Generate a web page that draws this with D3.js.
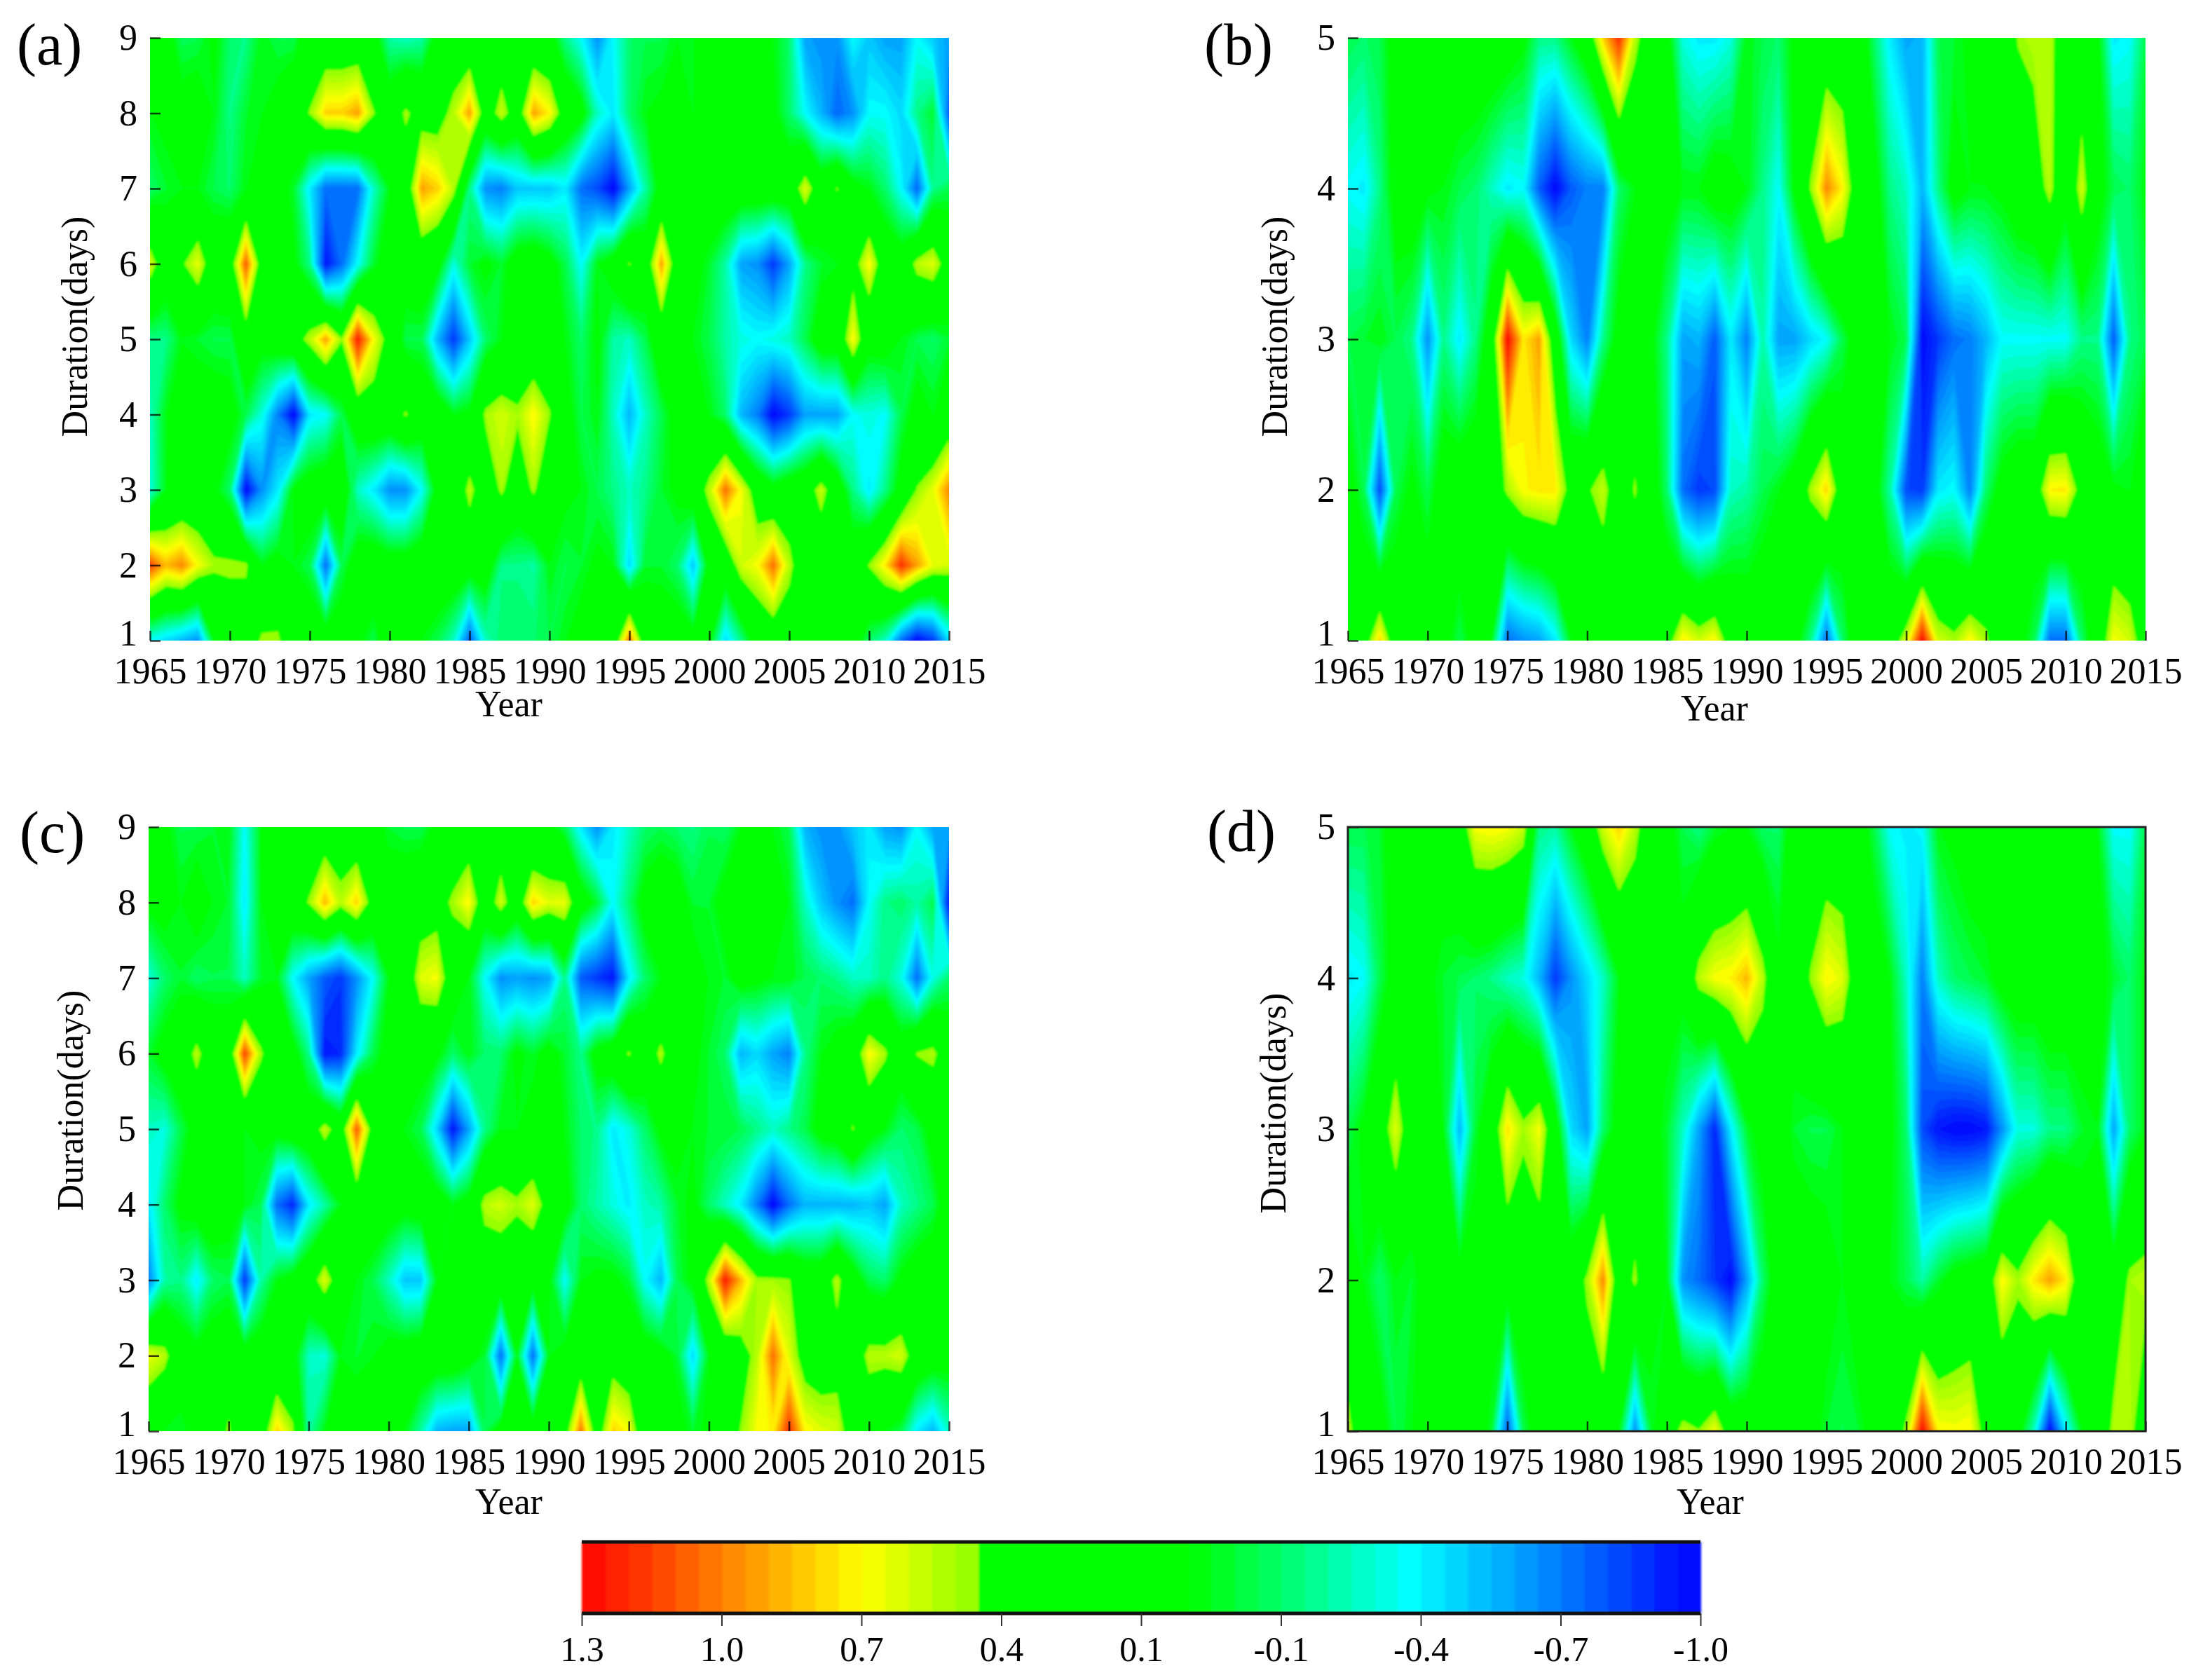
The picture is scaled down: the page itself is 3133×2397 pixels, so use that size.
<!DOCTYPE html>
<html>
<head>
<meta charset="utf-8">
<script src="https://cdn.jsdelivr.net/npm/d3@7"></script>
<style>
  body { margin: 0; background: #fff; }
  text { font-family: "Liberation Serif", serif; fill: #000; }
</style>
</head>
<body>
<div id="chart"></div>
<script>
const years = d3.range(1965, 2016);
const yearTicks = d3.range(1965, 2016, 5);
const durationsLong = [9, 8, 7, 6, 5, 4, 3, 2, 1];
const durationsShort = [5, 4, 3, 2, 1];
const legendTicks = [1.3, 1.0125, 0.725, 0.4375, 0.15, -0.1375, -0.425, -0.7125, -1.0];
const legendLabels = ["1.3", "1.0", "0.7", "0.4", "0.1", "-0.1", "-0.4", "-0.7", "-1.0"];

// one row per duration, top row first, 1965..2015 left to right
const panelA = [
  [.2,.2,-.02,0,.15,-.05,-.1,.1,0,0,
   .3,.3,.3,.3,.2,-.15,-.2,-.15,.2,.3,
   .25,.25,.3,.3,.25,.2,-.1,-.3,-.6,-.3,
   -.05,0,0,.1,.1,.25,.3,.3,.3,.1,
   -.05,-.55,-.6,-.6,-.3,-.45,-.55,-.55,-.3,-.45,
   -.55],
  [.1,.15,.2,.25,.1,-.1,.05,.1,.2,.35,
   .55,.85,.85,.95,.55,.3,.58,.4,.4,.62,
   .95,.35,.65,.35,.95,.78,.35,.2,-.2,-.35,
   -.05,.1,.15,.2,.1,.15,.25,.3,.3,.15,
   -.05,-.3,-.5,-.72,-.6,-.3,-.3,-.4,-.1,.05,
   -.75],
  [-.05,.05,.1,.1,0,-.05,.1,.2,.2,.05,
   -.35,-.7,-.7,-.7,-.2,.1,.3,.95,.85,.62,
   -.1,-.6,-.65,-.45,-.45,-.45,-.35,-.7,-.8,-1,
   -.55,-.15,.2,.25,.3,.3,.3,.3,.3,.3,
   .3,.7,.3,.55,.2,.1,-.05,-.3,-.72,-.1,
   0],
  [.68,.3,.5,.72,.3,.35,1.1,.35,.2,.15,
   -.1,-.95,-.7,-.3,.05,.25,.25,.3,.2,-.25,
   .05,.15,.05,.25,.3,.2,0,-.3,.1,.25,
   .55,.3,.95,.3,.2,.05,-.15,-.55,-.6,-.85,
   -.55,-.1,.05,.1,.4,.78,.3,.25,.62,.7,
   .35],
  [-.1,-.1,.1,.05,0,0,.35,.2,.3,.4,
   .62,.95,.55,1.25,.75,.4,0,0,-.5,-.85,
   -.45,-.05,.1,.2,.25,.3,.1,-.05,.15,-.15,
   -.2,0,.3,.25,.1,0,-.15,-.25,-.3,-.25,
   -.2,0,.25,.25,.78,.2,.25,.1,0,-.05,
   .05],
  [-.2,.1,.15,.25,.25,.2,0,-.25,-.65,-1,
   -.35,-.3,0,.3,.35,.35,.56,.3,.3,.1,
   .15,.58,.68,.58,.78,.55,.2,0,.1,-.2,
   -.5,-.2,0,.2,.3,.1,-.05,-.5,-.65,-1,
   -.85,-.55,-.55,-.55,-.3,-.25,-.3,0,.2,.1,
   .3],
  [-.25,.1,.2,.25,.15,-.05,-1,-.6,-.35,.15,
   .25,.3,.3,-.2,-.35,-.6,-.6,-.3,.2,.25,
   .62,.3,.58,.3,.58,.25,.15,.1,0,-.1,
   -.2,-.1,.05,.15,.3,.62,1.05,.75,.35,.2,
   .3,.35,.65,.3,-.1,-.35,-.1,.2,.55,.72,
   1],
  [1.15,.9,1,.75,.58,.58,.58,.1,.2,.1,
   0,-.7,0,.25,.3,.25,.25,.3,.3,.3,
   .25,.25,-.1,-.1,-.15,.1,0,.05,.15,.1,
   -.4,.05,.05,-.05,-.45,.2,.3,.67,.75,1.05,
   .62,.25,.25,.3,.3,.55,.8,1.2,.95,.72,
   .67],
  [-.3,-.4,-.5,-.6,.1,.3,.3,.58,.58,.25,
   .3,.3,.25,.15,0,.3,.3,.1,0,-.2,
   -.75,-.2,-.05,-.05,-.05,0,.1,.2,.25,.3,
   1.05,.3,.25,.25,.2,.15,-.4,-.1,.25,.3,
   .3,.3,.3,.3,.25,-.05,-.2,-.7,-1,-.85,
   -.4]
];

const panelB = [
  [0,-.05,0,.2,.3,.3,.3,.3,.3,.3,
   .25,.15,-.1,-.1,.1,.3,.85,1.2,.62,.3,
   .2,-.25,-.35,-.35,-.25,.1,0,-.05,.15,.3,
   .3,.3,.3,-.05,-.35,-.55,-.5,0,.05,.15,
   .25,.3,.55,.62,.62,.3,.3,.15,-.35,-.3,
   0],
  [-.3,-.35,-.1,.2,.25,.15,.1,0,-.05,-.2,
   -.35,-.3,-.75,-1,-.75,-.65,-.65,-.05,.1,.2,
   .2,.1,.1,.25,.2,.1,-.1,-.3,.15,.55,
   1,.78,.3,.2,-.1,-.2,-.5,-.1,.2,.1,
   .1,.15,.3,.35,.62,.2,.67,.2,0,-.05,
   .1],
  [0,.05,.1,0,-.1,-.6,-.1,-.35,-.1,.3,
   1.3,.8,.95,.3,-.4,-.65,-.1,.2,.25,.15,
   -.1,-.55,-.5,-.75,-.35,-.65,-.15,-.55,-.55,-.4,
   -.3,0,.25,.25,.1,0,-1,-.85,-.7,-.65,
   -.5,-.3,-.3,-.3,-.3,-.3,-.1,-.1,-.75,-.1,
   0],
  [.2,0,-.8,0,.15,0,.25,.3,.3,.3,
   .58,.76,.8,.8,.4,.5,.64,.3,.56,.25,
   -.05,-.7,-.85,-.8,-.2,-.15,0,.1,.25,.58,
   .85,.3,.3,.2,-.15,-.8,-.85,-.35,-.3,-.65,
   -.05,.2,.3,.3,.78,.8,.4,.25,.15,.1,
   .3],
  [.3,.35,.85,.3,.3,.3,.2,0,.2,.1,
   -.7,-.6,-.55,-.35,.1,.25,.2,.25,.1,.2,
   .4,.8,.67,.78,.35,.3,.3,.3,.2,-.1,
   -.7,-.05,.3,.3,.35,.67,1.3,.67,.58,.78,
   .58,.25,.2,0,-.7,-.7,-.05,.3,.75,.67,
   .35]
];

const panelC = [
  [.3,.15,0,0,.05,.1,-.3,.1,.3,.3,
   .3,.3,.3,.25,.25,.05,0,0,.15,.25,
   .3,.3,.3,.25,.1,.15,0,-.35,-.6,-.35,
   -.2,-.05,0,-.05,-.1,0,-.05,.1,.2,.1,
   0,-.5,-.6,-.6,-.45,-.35,-.55,-.6,-.3,-.55,
   -.55],
  [.15,.2,.1,.25,.1,.05,-.35,.1,.25,.35,
   .55,.9,.62,.85,.4,.25,.3,.35,.4,.58,
   .78,.3,.67,.3,.85,.7,.72,.25,.05,-.3,
   -.05,.2,.3,.25,.05,.05,.2,.3,.25,.2,
   .1,-.2,-.45,-.6,-.7,-.3,-.1,-.05,-.15,0,
   -.95],
  [-.25,-.05,.05,-.05,0,0,-.2,.05,.1,-.3,
   -.55,-.75,-.85,-.6,-.3,.1,.25,.7,.75,.3,
   .1,-.3,-.6,-.55,-.6,-.55,-.1,-.75,-.85,-.95,
   -.35,-.05,.1,.2,.2,.1,.05,.2,.15,.1,
   .1,0,-.05,-.1,-.2,-.2,-.1,-.25,-.7,-.25,
   -.05],
  [.05,.2,.3,.62,.3,.3,1.15,.58,.25,.2,
   -.1,-.95,-.9,-.35,0,.2,.25,.2,.15,-.05,
   .1,-.05,-.05,.15,.05,.2,.05,-.1,.2,.3,
   .56,.3,.6,.25,.15,.05,-.05,-.5,-.4,-.55,
   -.65,-.1,.1,.2,.3,.78,.58,.25,.55,.6,
   .3],
  [-.2,-.25,0,.2,.25,.2,.1,.15,.2,.3,
   .3,.65,.35,1.1,.4,.3,.1,0,-.4,-.95,
   -.55,-.1,.1,.1,.2,.25,.1,-.05,-.1,-.35,
   -.25,-.05,.15,.2,.1,.05,.05,0,-.1,-.2,
   -.1,0,.2,.25,.55,.2,.1,-.05,0,.2,
   .25],
  [-.35,-.05,.15,.25,.3,.2,.1,0,-.7,-.9,
   -.35,-.15,.1,.3,.3,.25,.2,.25,.25,.1,
   .2,.62,.67,.58,.7,.4,.2,-.05,-.15,-.25,
   -.35,-.2,-.15,.05,.15,-.05,-.2,-.35,-.65,-1,
   -.7,-.5,-.5,-.5,-.5,-.45,-.55,-.2,-.1,0,
   .25],
  [-.65,-.15,-.1,-.35,-.05,0,-.85,-.15,.1,.2,
   .35,.7,.3,.1,0,-.2,-.45,-.45,.1,.2,
   .25,.3,.3,.25,.2,.15,-.3,.1,.15,.15,
   .05,-.3,-.5,0,.15,.62,1.25,.9,.58,.58,
   .55,.3,.3,.62,.25,0,-.05,.15,.25,.3,
   .3],
  [.72,.62,.25,.2,.25,.3,.25,.25,.2,.2,
   -.2,-.25,.1,.05,.1,.2,.25,.3,.3,.3,
   .2,.05,-.7,.1,-.7,.1,.2,.3,.35,.4,
   .3,.25,.2,.05,-.4,.1,.25,.4,.62,1.05,
   .7,.4,.35,.4,.3,.62,.62,.68,.35,.25,
   .2],
  [.25,.1,.05,.2,.25,.58,.1,.3,.85,.58,
   -.15,.1,.2,.25,.2,.25,.1,-.15,-.5,-.55,
   -.55,0,.2,.2,.25,.3,.4,1.05,.35,.85,
   .75,.25,.25,.2,.05,.15,.35,.55,.75,.78,
   1.2,.78,.7,.67,.35,.25,.1,0,-.35,-.5,
   -.2]
];

const panelD = [
  [0,0,.05,.25,.3,.3,.25,.35,.75,.78,
   .75,.65,-.1,-.15,.1,.3,.67,.85,.62,.3,
   .2,0,-.1,.05,.1,.1,-.05,-.05,.25,.3,
   .3,.3,.25,0,-.3,-.35,-.3,.1,.15,.25,
   .25,.3,.3,.3,.3,.3,.3,.1,-.3,-.3,
   0],
  [-.35,-.3,0,.2,.25,.15,.05,0,-.05,-.1,
   -.2,-.25,-.5,-.85,-.6,-.4,-.2,.1,.2,.25,
   .2,.2,.62,.75,.78,.9,.62,.15,.25,.55,
   .78,.7,.3,.25,.1,-.2,-.65,-.2,-.05,0,
   .05,.2,.25,.25,.3,.3,.25,.2,.05,-.05,
   .1],
  [0,.15,.35,.7,.3,.25,.1,-.5,.05,.3,
   .82,.58,.75,.25,-.4,-.55,-.05,.2,.25,.2,
   .05,-.2,-.55,-.9,-.35,.05,.2,.25,.05,0,
   0,.1,.25,.25,.15,-.05,-.8,-.95,-1,-1,
   -.95,-.6,-.25,-.25,-.1,-.1,.05,.1,-.55,-.05,
   .1],
  [.2,.1,-.05,.1,.05,.2,.25,.2,.2,.25,
   .25,.3,.3,.3,.3,.58,1,.3,.58,.2,
   .1,-.6,-.7,-.85,-1,-.55,-.05,.25,.3,.25,
   .2,.1,.25,.25,.1,0,-.15,.05,.2,.25,
   .3,.78,.58,.8,.95,.8,.25,.15,.25,.58,
   .62],
  [.62,.3,.2,0,.1,.25,.2,.1,.25,.05,
   -.75,0,.25,.3,.3,.3,.25,.1,-.6,.05,
   .35,.62,.55,.75,.35,.3,.3,.25,.3,.2,
   .05,0,.05,.2,.3,.58,1.3,.78,.75,.78,
   .4,.15,.2,-.2,-1,-.35,.1,.2,.62,.62,
   .3]
];

const width = 3133, height = 2397;
const svg = d3.select("#chart").append("svg")
  .attr("width", width).attr("height", height)
  .style("display", "block");

const defs = svg.append("defs");
defs.append("filter").attr("id", "soft")
  .attr("x", "-2%").attr("y", "-2%").attr("width", "104%").attr("height", "104%")
  .append("feGaussianBlur").attr("stdDeviation", 1.6);

const rampColors = ["#ff0000", "#ff8000", "#ffff00", "#90ff00", "#00ff00", "#00ff00", "#00ffff", "#0000ff"];
// legend bar
const legendColor = d3.scaleLinear()
  .domain([1.3, 1.0125, 0.725, 0.49, 0.48, 0.05, -0.4, -1.0])
  .range(rampColors);
// the filled fields sit a little wider on the cyan side than the bar suggests
const fieldColor = d3.scaleLinear()
  .domain([1.3, 1.0125, 0.76, 0.54, 0.53, 0.12, -0.3, -1.0])
  .range(rampColors);
const step = 2.3 / 48;
const levels = d3.range(48).map(i => -1 + i * step);

const fontSize = 52;

function buildPanel(rows, durations, box, label) {
  const { left, right, top, bottom } = box;
  const x = d3.scaleLinear().domain([1965, 2015]).range([left, right]);
  const y = d3.scaleLinear().domain([durations[durations.length - 1], durations[0]]).range([bottom, top]);
  const g = svg.append("g");

  const clipId = "clip-" + label;
  defs.append("clipPath").attr("id", clipId).append("rect")
    .attr("x", left).attr("y", top).attr("width", right - left).attr("height", bottom - top);

  const n = years.length, m = durations.length;
  const contours = d3.contours().size([n, m]).thresholds(levels)(rows.flat());

  // d3.contours puts grid point i at i + 0.5
  const path = d3.geoPath(d3.geoTransform({
    point(px, py) {
      this.stream.point(x(1965 + px - 0.5), y(durations[0] - (py - 0.5)));
    }
  }));

  const inner = g.append("g").attr("clip-path", `url(#${clipId})`)
    .append("g").attr("filter", "url(#soft)");
  inner.append("rect")
    .attr("x", left - 40).attr("y", top - 40)
    .attr("width", right - left + 80).attr("height", bottom - top + 80)
    .attr("fill", fieldColor(-1));
  inner.selectAll("path").data(contours).join("path")
    .attr("d", path)
    .attr("fill", d => fieldColor(d.value + step / 2));

  const xAxis = d3.axisBottom(x).tickValues(yearTicks).tickFormat(d3.format("d"))
    .tickSize(-14).tickPadding(24);
  const yAxis = d3.axisLeft(y).tickValues(durations).tickFormat(d3.format("d"))
    .tickSize(-15).tickPadding(18);

  const gx = g.append("g").attr("transform", `translate(0,${bottom})`).call(xAxis);
  const gy = g.append("g").attr("transform", `translate(${left},0)`).call(yAxis);
  [gx, gy].forEach(a => {
    a.select(".domain").remove();
    a.selectAll("line").attr("stroke", "#000").attr("stroke-width", 2.5).attr("opacity", 0.75);
    a.selectAll("text").style("font-family", "Liberation Serif").style("font-size", fontSize + "px");
  });
  // the lowest duration label sits just above the year labels
  gy.selectAll("text").filter(d => d === 1).attr("dy", "0.12em");

  g.append("text").attr("x", box.yearX).attr("y", box.yearY)
    .attr("text-anchor", "middle").attr("font-size", fontSize).text("Year");
  g.append("text")
    .attr("transform", `translate(${box.durX},${box.durY}) rotate(-90)`)
    .attr("text-anchor", "middle").attr("font-size", fontSize).text("Duration(days)");
  g.append("text").attr("x", box.labelX).attr("y", box.labelY)
    .attr("font-size", 84).text(`(${label})`);
}

buildPanel(panelA, durationsLong,
  { left: 214, right: 1354, top: 54, bottom: 914, yearX: 726, yearY: 1022, durX: 124, durY: 466, labelX: 24, labelY: 92 }, "a");
buildPanel(panelB, durationsShort,
  { left: 1923, right: 3061, top: 54, bottom: 914, yearX: 2446, yearY: 1028, durX: 1836, durY: 466, labelX: 1718, labelY: 92 }, "b");
buildPanel(panelC, durationsLong,
  { left: 212, right: 1354, top: 1180, bottom: 2042, yearX: 726, yearY: 2160, durX: 118, durY: 1570, labelX: 28, labelY: 1216 }, "c");
buildPanel(panelD, durationsShort,
  { left: 1923, right: 3061, top: 1180, bottom: 2042, yearX: 2440, yearY: 2160, durX: 1834, durY: 1574, labelX: 1722, labelY: 1214 }, "d");

// panel (d) has a dark frame
svg.append("rect")
  .attr("x", 1923).attr("y", 1180).attr("width", 1138).attr("height", 862)
  .attr("fill", "none").attr("stroke", "#222").attr("stroke-width", 3);

// legend
const lx = d3.scaleLinear().domain([1.3, -1.0]).range([830, 2426]);
const legend = svg.append("g");
legend.append("g").attr("filter", "url(#soft)").selectAll("rect").data(levels).join("rect")
  .attr("x", d => lx(d + step))
  .attr("y", 2200)
  .attr("width", d => lx(d) - lx(d + step) + 1)
  .attr("height", 102)
  .attr("fill", d => legendColor(d + step / 2));
legend.selectAll(".edge").data([2200, 2302]).join("line").attr("class", "edge")
  .attr("x1", 830).attr("x2", 2426).attr("y1", d => d).attr("y2", d => d)
  .attr("stroke", "#111").attr("stroke-width", 5);

const legendAxis = d3.axisBottom(lx).tickValues(legendTicks)
  .tickFormat((d, i) => legendLabels[i]).tickSize(18).tickPadding(14);
const gl = legend.append("g").attr("transform", "translate(0,2302)").call(legendAxis);
gl.select(".domain").remove();
gl.selectAll("line").attr("stroke", "#333").attr("stroke-width", 2);
gl.selectAll("text").style("font-family", "Liberation Serif").style("font-size", "50px");
</script>
</body>
</html>
